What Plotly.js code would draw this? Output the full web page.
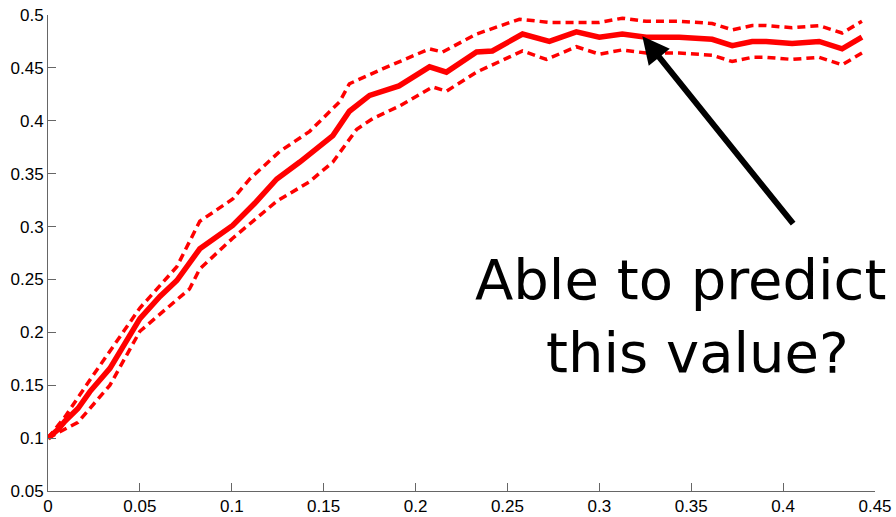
<!DOCTYPE html>
<html>
<head>
<meta charset="utf-8">
<script src="https://cdn.plot.ly/plotly-3.0.1.min.js"></script>
<style>html,body{margin:0;padding:0;background:#fff;}#chart{width:896px;height:517px;}</style>
</head>
<body>
<div id="chart"></div>
<script>
// Mean curve
const meanX = [0, 0.0054, 0.0092, 0.0163, 0.0228, 0.0337, 0.050, 0.0609, 0.0701, 0.0826, 0.1005, 0.1125, 0.1245, 0.137, 0.155, 0.164, 0.175, 0.191, 0.2076, 0.2168, 0.2332, 0.2418, 0.2582, 0.2728, 0.2875, 0.300, 0.3125, 0.3255, 0.3435, 0.3614, 0.3723, 0.3832, 0.3908, 0.4049, 0.4196, 0.4321, 0.4429];
const meanY = [0.100, 0.108, 0.116, 0.128, 0.144, 0.166, 0.213, 0.234, 0.249, 0.279, 0.301, 0.322, 0.345, 0.361, 0.386, 0.409, 0.424, 0.433, 0.451, 0.446, 0.465, 0.466, 0.482, 0.475, 0.484, 0.479, 0.482, 0.479, 0.479, 0.477, 0.471, 0.475, 0.475, 0.473, 0.475, 0.468, 0.479];
// Upper bound
const upperX = [0, 0.0092, 0.0228, 0.050, 0.0701, 0.0826, 0.1005, 0.1098, 0.1261, 0.1424, 0.1587, 0.164, 0.182, 0.2076, 0.2147, 0.2332, 0.2565, 0.2728, 0.300, 0.3125, 0.3255, 0.3435, 0.3614, 0.3723, 0.3832, 0.3908, 0.4049, 0.4196, 0.4321, 0.4429];
const upperY = [0.100, 0.120, 0.155, 0.223, 0.262, 0.305, 0.326, 0.345, 0.371, 0.390, 0.418, 0.435, 0.449, 0.468, 0.465, 0.482, 0.496, 0.493, 0.493, 0.497, 0.494, 0.494, 0.492, 0.486, 0.490, 0.490, 0.488, 0.490, 0.483, 0.494];
// Lower bound
const lowerX = [0, 0.0163, 0.0337, 0.050, 0.077, 0.0826, 0.1005, 0.1245, 0.142, 0.155, 0.168, 0.1766, 0.1913, 0.2092, 0.2168, 0.2332, 0.2582, 0.2712, 0.2875, 0.300, 0.3125, 0.3255, 0.3435, 0.3614, 0.3723, 0.3832, 0.3908, 0.4049, 0.4196, 0.4321, 0.4429];
const lowerY = [0.100, 0.115, 0.150, 0.201, 0.241, 0.260, 0.289, 0.324, 0.342, 0.361, 0.392, 0.402, 0.414, 0.432, 0.428, 0.446, 0.466, 0.458, 0.470, 0.463, 0.467, 0.464, 0.464, 0.462, 0.456, 0.460, 0.460, 0.458, 0.460, 0.453, 0.464];

const xTicks = [0, 0.05, 0.1, 0.15, 0.2, 0.25, 0.3, 0.35, 0.4, 0.45];
const xTickLabels = ['0', '0.05', '0.1', '0.15', '0.2', '0.25', '0.3', '0.35', '0.4', '0.45'];
const yTicks = [0.05, 0.1, 0.15, 0.2, 0.25, 0.3, 0.35, 0.4, 0.45, 0.5];
const yTickLabels = ['0.05', '0.1', '0.15', '0.2', '0.25', '0.3', '0.35', '0.4', '0.45', '0.5'];

const noteLine1 = 'Able to predict';
const noteLine2 = 'this value?';
const arrowHead = [0.3234, 0.480];

const traces = [
  {x: upperX, y: upperY, mode: 'lines', line: {color: '#ff0000', width: 3.5, dash: '8px,5px'}, hoverinfo: 'skip'},
  {x: lowerX, y: lowerY, mode: 'lines', line: {color: '#ff0000', width: 3.5, dash: '8px,5px'}, hoverinfo: 'skip'},
  {x: meanX, y: meanY, mode: 'lines', line: {color: '#ff0000', width: 5.5}, hoverinfo: 'skip'}
];

const axisCommon = {
  showgrid: false, zeroline: false, showline: true, linecolor: '#666', linewidth: 1,
  ticks: 'inside', ticklen: 8, tickcolor: '#666', tickwidth: 1,
  tickfont: {family: 'Liberation Sans, Arial, sans-serif', size: 17, color: '#000'},
  mirror: false
};

const noteFont = {family: 'Comic Sans MS, DejaVu Sans, sans-serif', size: 56, color: '#000'};

const layout = {
  width: 896, height: 517,
  margin: {l: 48, r: 21, t: 15, b: 26},
  paper_bgcolor: '#fff', plot_bgcolor: '#fff',
  showlegend: false,
  xaxis: Object.assign({}, axisCommon, {range: [0, 0.45], tickvals: xTicks, ticktext: xTickLabels, ticklabelstandoff: 0}),
  yaxis: Object.assign({}, axisCommon, {range: [0.05, 0.5], tickvals: yTicks, ticktext: yTickLabels, ticklabelstandoff: 0}),
  annotations: [
    {x: arrowHead[0], y: arrowHead[1], xref: 'x', yref: 'y', text: '', showarrow: true,
     arrowhead: 2, arrowsize: 0.9, arrowwidth: 6, arrowcolor: '#000', ax: 152, ay: 189, standoff: 0, startstandoff: 0},
    {x: 0.2310, y: 0.250, xref: 'x', yref: 'y', text: noteLine1, showarrow: false,
     xanchor: 'left', yanchor: 'middle', align: 'left', font: noteFont},
    {x: 0.2701, y: 0.181, xref: 'x', yref: 'y', text: noteLine2, showarrow: false,
     xanchor: 'left', yanchor: 'middle', align: 'left', font: noteFont}
  ]
};

Plotly.newPlot('chart', traces, layout, {displayModeBar: false, staticPlot: true});
</script>
</body>
</html>
